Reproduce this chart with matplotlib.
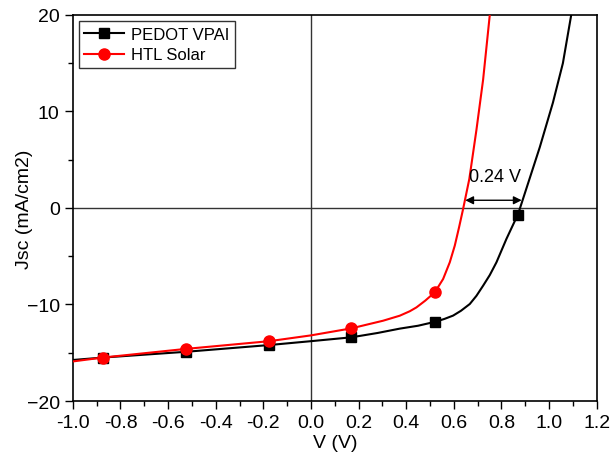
import matplotlib
matplotlib.use("Agg")
import matplotlib.pyplot as plt
from matplotlib.lines import Line2D
from matplotlib.ticker import MultipleLocator, FormatStrFormatter

plt.rcParams['font.family'] = ['Liberation Sans', 'DejaVu Sans']

# PEDOT VPAI curve
pedot_v = [-1.0, -0.875, -0.525, -0.175, 0.0, 0.17, 0.28, 0.373, 0.45, 0.52,
           0.56, 0.597, 0.63, 0.667, 0.695, 0.723, 0.751, 0.779, 0.821, 0.87,
           0.919, 0.961, 1.016, 1.058, 1.093]
pedot_j = [-15.75, -15.5, -14.9, -14.2, -13.8, -13.4, -12.95, -12.5, -12.2, -11.8,
           -11.5, -11.15, -10.65, -9.95, -9.1, -8.05, -6.95, -5.63, -3.2, -0.62,
           3.1, 6.3, 10.9, 15.0, 20.0]
pedot_mv = [-0.875, -0.525, -0.175, 0.17, 0.52, 0.87]
pedot_mj = [-15.5, -14.9, -14.2, -13.4, -11.8, -0.7]

# HTL Solar curve
htl_v = [-1.0, -0.875, -0.525, -0.175, 0.0, 0.17, 0.303, 0.373, 0.415, 0.443,
         0.48, 0.52, 0.555, 0.583, 0.604, 0.622, 0.639, 0.665, 0.695, 0.723, 0.751]
htl_j = [-15.9, -15.5, -14.6, -13.8, -13.2, -12.47, -11.68, -11.16, -10.7, -10.3,
         -9.6, -8.74, -7.36, -5.63, -3.9, -2.0, -0.1, 3.0, 8.1, 13.3, 20.0]
htl_mv = [-0.875, -0.525, -0.175, 0.17, 0.52]
htl_mj = [-15.5, -14.6, -13.8, -12.45, -8.74]

fig = plt.figure(figsize=(6.12, 4.64), dpi=100)
ax = fig.add_axes([0.119, 0.1336, 0.856, 0.832])

ax.axhline(0, color='#333333', lw=1.0, zorder=1)
ax.axvline(0, color='#333333', lw=1.0, zorder=1)

ax.plot(pedot_v, pedot_j, color='black', lw=1.5, zorder=3)
ax.plot(pedot_mv, pedot_mj, 's', color='black', ms=7, zorder=4)
ax.plot(htl_v, htl_j, color='red', lw=1.5, zorder=3)
ax.plot(htl_mv, htl_mj, 'o', color='red', ms=8, zorder=4)

# Voc shift annotation
ax.annotate('', xy=(0.648, 0.8), xytext=(0.885, 0.8),
            arrowprops=dict(arrowstyle='<|-|>', color='black', lw=1.0,
                            mutation_scale=12, shrinkA=0, shrinkB=0))
ax.text(0.775, 3.3, '0.24 V', fontsize=13, ha='center', va='center')

ax.set_xlim(-1.0, 1.2)
ax.set_ylim(-20, 20)
ax.xaxis.set_major_locator(MultipleLocator(0.2))
ax.xaxis.set_minor_locator(MultipleLocator(0.1))
ax.yaxis.set_major_locator(MultipleLocator(10))
ax.yaxis.set_minor_locator(MultipleLocator(5))
ax.xaxis.set_major_formatter(FormatStrFormatter('%.1f'))
ax.tick_params(which='both', direction='out', labelsize=14, top=False, right=False)
ax.tick_params(which='major', length=6, width=1)
ax.tick_params(which='minor', length=3.5, width=1)
for s in ax.spines.values():
    s.set_linewidth(1.2)

ax.set_xlabel('V (V)', fontsize=14, labelpad=2)
ax.set_ylabel('Jsc (mA/cm2)', fontsize=14, labelpad=-5)

handles = [
    Line2D([], [], color='black', lw=1.5, marker='s', ms=7),
    Line2D([], [], color='red', lw=1.5, marker='o', ms=8),
]
leg = ax.legend(handles, ['PEDOT VPAI', 'HTL Solar'], loc='upper left',
                fontsize=12, frameon=True, fancybox=False, edgecolor='black',
                borderpad=0.35, handlelength=2.4, handletextpad=0.4,
                labelspacing=0.35, borderaxespad=0.35)
leg.get_frame().set_linewidth(1.0)

fig.savefig('out.png', dpi=100)
